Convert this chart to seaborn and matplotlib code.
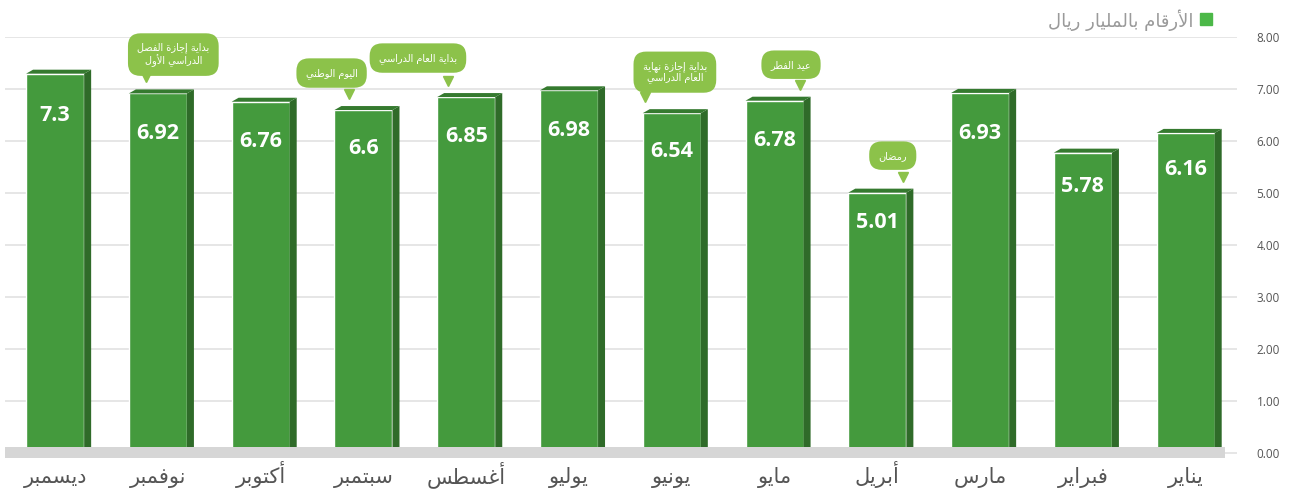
import numpy as np
import pandas as pd
import matplotlib
matplotlib.use("Agg")
import matplotlib.pyplot as plt
import matplotlib.transforms as mtransforms
from matplotlib.patches import Polygon
import seaborn as sns

# ==========================================
# data
# ==========================================
months = ["يناير", "فبراير", "مارس", "أبريل", "مايو", "يونيو",
          "يوليو", "أغسطس", "سبتمبر", "أكتوبر", "نوفمبر", "ديسمبر"]
values = [6.16, 5.78, 6.93, 5.01, 6.78, 6.54, 6.98, 6.85, 6.6, 6.76, 6.92, 7.3]
legend_text = "الأرقام بالمليار ريال"
event_months = ["نوفمبر", "سبتمبر", "أغسطس", "يونيو", "مايو", "أبريل"]
event_texts = ["بداية إجازة الفصل\nالدراسي الأول", "اليوم الوطني", "بداية العام الدراسي",
               "بداية إجازة نهاية\nالعام الدراسي", "عيد الفطر", "رمضان"]
y_ticks = [0, 1, 2, 3, 4, 5, 6, 7, 8]

# callout layout (box dx, pointer dx in bar units; box dy px above bar top)
callout_pos = {
    "نوفمبر": (0.15, -0.12, 39),
    "سبتمبر": (-0.31, -0.14, 37),
    "أغسطس": (-0.47, -0.18, 39),
    "يونيو": (0.03, -0.26, 41),
    "مايو": (0.16, 0.25, 36),
    "أبريل": (0.15, 0.25, 37),
}

FRONT = "#449a3d"
SIDE = "#2f6b29"
TOP = "#357a2f"
BUBBLE = "#8cc24a"


# ------------------------------------------
# simple arabic shaping (matplotlib has no bidi / joining)
# ------------------------------------------
_DUAL = {"ئ": 0xFE89, "ب": 0xFE8F, "ت": 0xFE95, "ث": 0xFE99, "ج": 0xFE9D, "ح": 0xFEA1,
         "خ": 0xFEA5, "س": 0xFEB1, "ش": 0xFEB5, "ص": 0xFEB9, "ض": 0xFEBD, "ط": 0xFEC1,
         "ظ": 0xFEC5, "ع": 0xFEC9, "غ": 0xFECD, "ف": 0xFED1, "ق": 0xFED5, "ك": 0xFED9,
         "ل": 0xFEDD, "م": 0xFEE1, "ن": 0xFEE5, "ه": 0xFEE9, "ي": 0xFEF1}
_RIGHT = {"آ": 0xFE81, "أ": 0xFE83, "ؤ": 0xFE85, "إ": 0xFE87, "ا": 0xFE8D, "ة": 0xFE93,
          "د": 0xFEA9, "ذ": 0xFEAB, "ر": 0xFEAD, "ز": 0xFEAF, "و": 0xFEED, "ى": 0xFEEF}
_LAMALEF = {"آ": 0xFEF5, "أ": 0xFEF7, "إ": 0xFEF9, "ا": 0xFEFB}


def _joins(c):
    return c in _DUAL or c in _RIGHT


def shape_line(s):
    out = []
    i = 0
    n = len(s)
    while i < n:
        c = s[i]
        prev = s[i - 1] if i > 0 else ""
        conn_prev = prev in _DUAL and _joins(c)
        if c == "ل" and i + 1 < n and s[i + 1] in _LAMALEF:
            out.append(chr(_LAMALEF[s[i + 1]] + (1 if conn_prev else 0)))
            i += 2
            continue
        nxt = s[i + 1] if i + 1 < n else ""
        if c in _DUAL:
            conn_next = _joins(nxt)
            base = _DUAL[c]
            if conn_prev and conn_next:
                out.append(chr(base + 3))
            elif conn_next:
                out.append(chr(base + 2))
            elif conn_prev:
                out.append(chr(base + 1))
            else:
                out.append(chr(base))
        elif c in _RIGHT:
            out.append(chr(_RIGHT[c] + (1 if conn_prev else 0)))
        else:
            out.append(c)
        i += 1
    return "".join(out)[::-1]


def ar(s):
    return "\n".join(shape_line(line) for line in s.split("\n"))


# ==========================================
# figure
# ==========================================
sns.set_style("white")
plt.rcParams["font.family"] = ["Open Sans", "DejaVu Sans"]

fig = plt.figure(figsize=(12.94, 4.91), dpi=100)
ax = fig.add_axes([0.004, 0.067, 0.952, 0.857])

df = pd.DataFrame({"month": [ar(m) for m in months], "value": values})
order = [ar(m) for m in months[::-1]]

sns.barplot(data=df, x="month", y="value", order=order, color=FRONT,
            saturation=1, width=0.565, ax=ax, zorder=3)

ax.set_xlim(-0.486, 11.5)
ax.set_ylim(-0.1, 8)

# 3D side and top faces built from the bars seaborn drew
dx, dy = 0.068, 0.077
for p in list(ax.patches):
    x0, w, h = p.get_x(), p.get_width(), p.get_height()
    side = Polygon([(x0 + w, 0), (x0 + w + dx, dy), (x0 + w + dx, h + dy), (x0 + w, h)],
                   closed=True, facecolor=SIDE, edgecolor="none", zorder=3)
    top = Polygon([(x0, h), (x0 + dx, h + dy), (x0 + w + dx, h + dy), (x0 + w, h)],
                  closed=True, facecolor=TOP, edgecolor="none", zorder=3)
    ax.add_patch(side)
    ax.add_patch(top)

# floor band
ax.fill_between([-0.486, 11.38], -0.1, 0.115, color="#d6d6d6", zorder=4, lw=0)

# value labels
pos = {m: i for i, m in enumerate(months[::-1])}
for m, v in zip(months, values):
    ax.text(pos[m], v * 0.895, f"{v:g}", ha="center", va="center_baseline", color="white",
            fontsize=15.5, fontweight="bold", zorder=5)

# callouts
for m, t in zip(event_months, event_texts):
    i = pos[m]
    v = values[months.index(m)]
    bdx, pdx, bdy = callout_pos[m]
    ax.annotate(ar(t), xy=(i + bdx, v), xytext=(0, bdy), textcoords="offset pixels",
                ha="center", va="center", fontsize=7, color="white", linespacing=1.1,
                family="DejaVu Sans",
                bbox=dict(boxstyle="round,pad=0.95,rounding_size=1.3", fc=BUBBLE, ec="none"),
                zorder=6)
    tr = mtransforms.offset_copy(ax.transData, fig=fig, x=0, y=16, units="dots")
    ax.plot([i + pdx], [v], marker="v", markersize=7, color=BUBBLE, transform=tr,
            zorder=6, clip_on=False)

# axes styling
ax.set_yticks(y_ticks)
ax.set_yticklabels([f"{t:.2f}" for t in y_ticks])
ax.yaxis.tick_right()
ax.tick_params(axis="y", length=0, pad=14, labelsize=8.5, labelcolor="#555555")
ax.tick_params(axis="x", length=0, pad=18, labelsize=15, labelcolor="#555555")
for lab in ax.get_xticklabels():
    lab.set_verticalalignment("baseline")
ax.yaxis.grid(True, color="#e2e2e2", lw=1.2)
ax.set_axisbelow(True)
ax.set_xlabel("")
ax.set_ylabel("")
for s in ax.spines.values():
    s.set_visible(False)

# legend
fig.patches.append(plt.Rectangle((1200 / 1294, 1 - 25 / 491), 12 / 1294, 12 / 491,
                                 transform=fig.transFigure, color="#4cb848", figure=fig))
fig.text(1193 / 1294, 1 - 20 / 491, ar(legend_text), ha="right", va="center",
         fontsize=13, color="#9a9a9a", family="DejaVu Sans")

fig.savefig("out.png", dpi=100)
